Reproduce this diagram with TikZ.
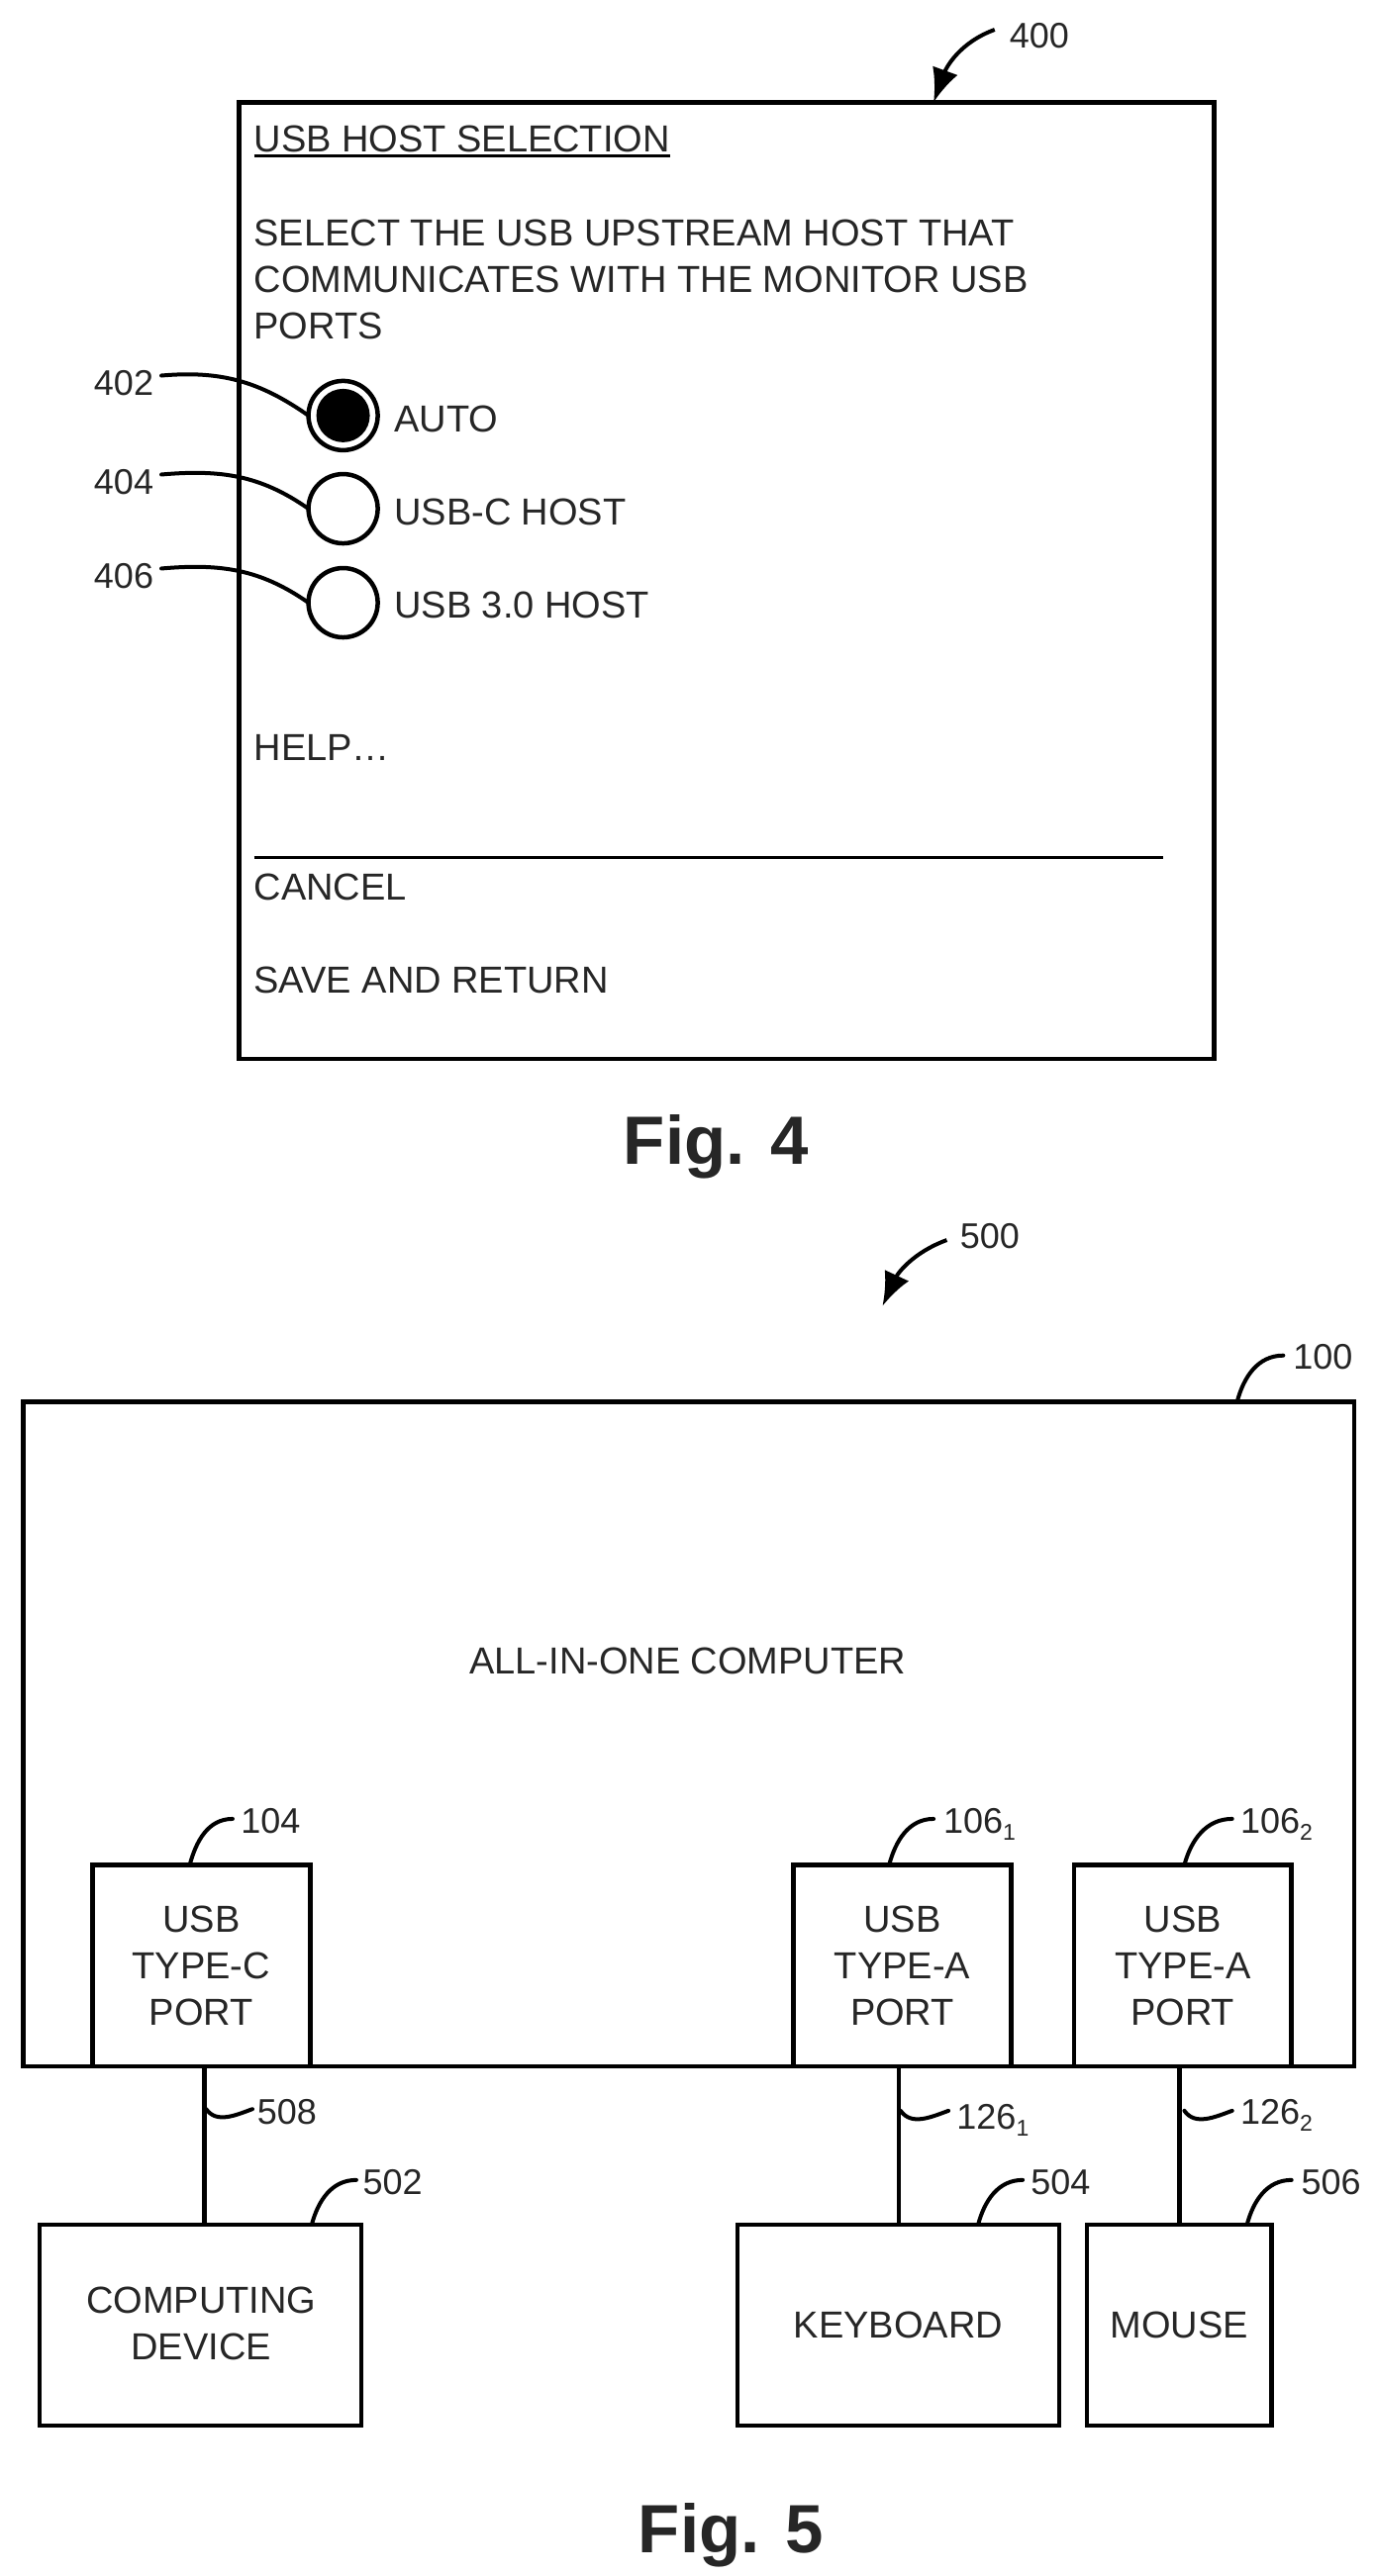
\documentclass[tikz,border=0pt]{standalone}
\usepackage{fontspec}
\setmainfont{Liberation Sans}
\usetikzlibrary{arrows.meta}
\newcommand{\subnum}[1]{\raisebox{-7bp}{\fontsize{23bp}{23bp}\selectfont #1}}
\tikzset{
  x=1.6663bp, y=-1.6663bp,
  txt/.style={inner sep=0pt, outer sep=0pt, font=\fontsize{38bp}{47bp}\selectfont, text=black!85},
  ltext/.style={txt, anchor=base west},
  ctext/.style={txt, anchor=base},
  figlab/.style={inner sep=0pt, outer sep=0pt, anchor=base, font=\bfseries\fontsize{69bp}{69bp}\selectfont, text=black!85},
  numlab/.style={inner sep=0pt, outer sep=0pt, anchor=base west, font=\fontsize{36bp}{40bp}\selectfont, text=black!85},
  boxed/.style={draw=black, line width=4.5bp, inner sep=0pt, outer sep=0pt, fill=white, align=center},
  sized/.style 2 args={minimum width=#1*1.6663bp, minimum height=#2*1.6663bp},
  radio/.style={circle, draw=black, line width=4.5bp, inner sep=0pt, outer sep=0pt, minimum size=70bp, fill=white},
  radiodot/.style={circle, fill=black, inner sep=0pt, outer sep=0pt, minimum size=54bp},
  lead/.style={draw=black, line width=4bp, line cap=round},
  wire/.style={draw=black, line width=4.5bp},
  pointer/.style={draw=black, line width=4bp, -{Latex[length=34bp,width=27bp]}},
}
\begin{document}
\begin{tikzpicture}
\useasboundingbox (0,0) rectangle (833,1562.16);
% ---------- Fig. 4 ----------
\node[boxed, sized={591}{580}] (menu) at (440.5,352) {};
\node[ltext] (title) at (154,92) {USB HOST SELECTION};
\draw[line width=3bp, draw=black] ([yshift=-4.5bp]title.base west) -- ([yshift=-4.5bp]title.base east);
\node[ltext] (sel1) at (154,149) {SELECT THE USB UPSTREAM HOST THAT};
\node[ltext] (sel2) at (154,177.3) {COMMUNICATES WITH THE MONITOR USB};
\node[ltext] (sel3) at (154,205.5) {PORTS};
\node[radio] (r402) at (208,252) {};
\node[radiodot] (d402) at (r402.center) {};
\node[radio] (r404) at (208,308.5) {};
\node[radio] (r406) at (208,365.5) {};
\node[ltext] (auto) at (239,262) {AUTO};
\node[ltext] (usbc) at (239,318.5) {USB-C HOST};
\node[ltext] (usb3) at (239,375) {USB 3.0 HOST};
\node[ltext] (help) at (154,461) {HELP\ldots};
\coordinate (sepl) at (154,520);
\coordinate (sepr) at (705,520);
\draw[line width=2.2bp, draw=black] (sepl) -- (sepr);
\node[ltext] (cancel) at (154,546) {CANCEL};
\node[ltext] (save) at (154,602.5) {SAVE AND RETURN};
\node[figlab] (fig4) at (434,706) {Fig. 4};
\node[numlab] (l400) at (612,29) {400};
\coordinate (a400) at (603,18);
\coordinate (t400) at (566,62);
\draw[pointer] (a400) to[out=200,in=70] (t400);
\node[numlab] (l402) at (57,240) {402};
\node[numlab] (l404) at (57,300) {404};
\node[numlab] (l406) at (57,357) {406};
\draw[lead] ([xshift=8bp,yshift=8bp]l402.east) to[out=5,in=145] (r402.west);
\draw[lead] ([xshift=8bp,yshift=8bp]l404.east) to[out=5,in=145] (r404.west);
\draw[lead] ([xshift=8bp,yshift=8bp]l406.east) to[out=5,in=145] (r406.west);
% ---------- Fig. 5 ----------
\node[numlab] (l500) at (582,757) {500};
\coordinate (a500) at (574,752);
\coordinate (t500) at (535,792);
\draw[pointer] (a500) to[out=200,in=65] (t500);
\node[boxed, sized={807}{403}] (main) at (417.5,1051.5) {};
\node[ctext] (mainlab) at (417,1015) {ALL-IN-ONE COMPUTER};
\node[boxed, sized={132}{122}, text=black!85, font=\fontsize{38bp}{47bp}\selectfont] (p104) at (122,1192) {USB\\TYPE-C\\PORT};
\node[boxed, sized={132}{122}, text=black!85, font=\fontsize{38bp}{47bp}\selectfont] (p1061) at (547,1192) {USB\\TYPE-A\\PORT};
\node[boxed, sized={132}{122}, text=black!85, font=\fontsize{38bp}{47bp}\selectfont] (p1062) at (717,1192) {USB\\TYPE-A\\PORT};
\node[boxed, sized={195}{122}] (dev) at (121.5,1410) {};
\node[ctext] (devl1) at (122,1403) {COMPUTING};
\node[ctext] (devl2) at (122,1431) {DEVICE};
\node[boxed, sized={195}{122}, text=black!85, font=\fontsize{38bp}{47bp}\selectfont] (kbd) at (544.5,1410) {KEYBOARD};
\node[boxed, sized={112}{122}, text=black!85, font=\fontsize{38bp}{47bp}\selectfont] (mouse) at (715,1410) {MOUSE};
\coordinate (w1a) at (124,1253);
\coordinate (w2a) at (545,1253);
\coordinate (w3a) at (715,1253);
\draw[wire] (w1a) -- (w1a |- dev.north);
\draw[wire] (w2a) -- (w2a |- kbd.north);
\draw[wire] (w3a) -- (w3a |- mouse.north);
\node[numlab] (l100) at (784,830) {100};
\node[numlab] (l104) at (146,1112) {104};
\node[numlab] (l1061) at (572,1112) {106\subnum{1}};
\node[numlab] (l1062) at (752,1112) {106\subnum{2}};
\node[numlab] (l508) at (156,1288) {508};
\node[numlab] (l1261) at (580,1291) {126\subnum{1}};
\node[numlab] (l1262) at (752,1288) {126\subnum{2}};
\node[numlab] (l502) at (220,1331) {502};
\node[numlab] (l504) at (625,1331) {504};
\node[numlab] (l506) at (789,1331) {506};
\coordinate (c100a) at (750,850); \coordinate (c100b) at (778,822);
\coordinate (c104a) at (115,1131); \coordinate (c104b) at (141,1103);
\coordinate (c1061a) at (539,1131); \coordinate (c1061b) at (566,1103);
\coordinate (c1062a) at (718,1131); \coordinate (c1062b) at (747,1103);
\coordinate (c502a) at (189,1349); \coordinate (c502b) at (216,1322);
\coordinate (c504a) at (593,1349); \coordinate (c504b) at (620,1322);
\coordinate (c506a) at (756,1349); \coordinate (c506b) at (783,1322);
\foreach \n in {100,104,1061,1062,502,504,506}{
  \draw[lead] (c\n a) to[out=75,in=180] (c\n b);
}
\coordinate (c508a) at (125,1279); \coordinate (c508b) at (153,1279);
\coordinate (c1261a) at (546,1280); \coordinate (c1261b) at (575,1280);
\coordinate (c1262a) at (718,1280); \coordinate (c1262b) at (747,1280);
\foreach \n in {508,1261,1262}{
  \draw[lead] (c\n a) to[out=-55,in=200] (c\n b);
}
\node[figlab] (fig5) at (443,1548) {Fig. 5};
\end{tikzpicture}
\end{document}
